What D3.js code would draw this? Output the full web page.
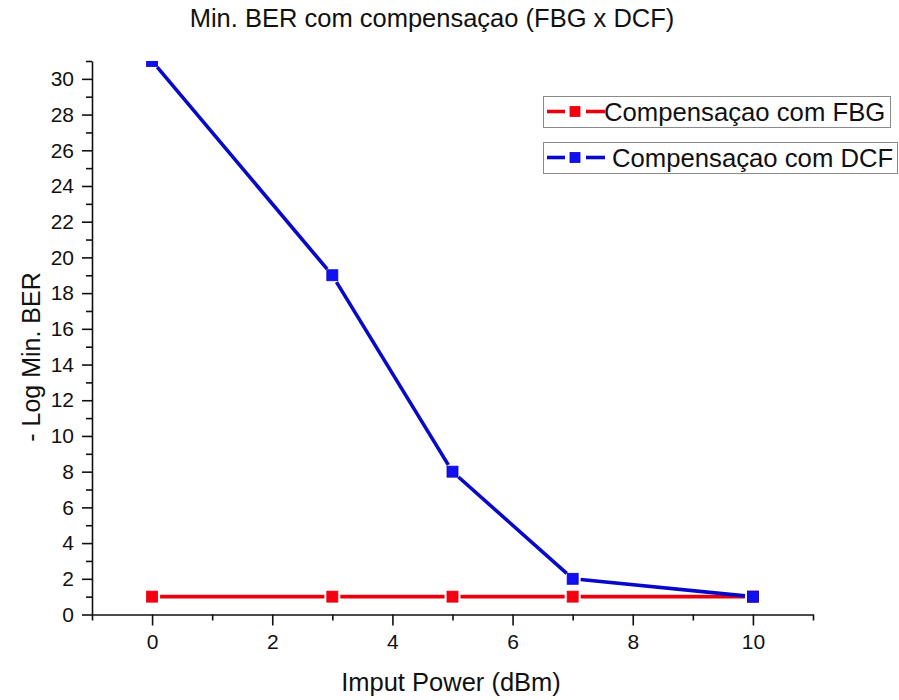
<!DOCTYPE html>
<html>
<head>
<meta charset="utf-8">
<script src="https://cdn.jsdelivr.net/npm/d3@7"></script>
<style>
  body { margin: 0; background: #fff; }
  text { font-family: Arial, "Liberation Sans", sans-serif; fill: #111; }
  .tick text { font-size: 21px; }
</style>
</head>
<body>
<svg id="chart" width="899" height="700"></svg>
<script>
// ---- data ----
const inputPower = [0, 3, 5, 7, 10];
const fbgValues = [1, 1, 1, 1, 1];
const dcfValues = [31, 19, 8, 2, 1];
const seriesNames = ["Compensaçao com FBG", "Compensaçao com DCF"];
const xMajorTicks = [0, 2, 4, 6, 8, 10];
const xMinorTicks = [-1, 1, 3, 5, 7, 9, 11];
const yMajorTicks = [0, 2, 4, 6, 8, 10, 12, 14, 16, 18, 20, 22, 24, 26, 28, 30];
const yMinorTicks = [1, 3, 5, 7, 9, 11, 13, 15, 17, 19, 21, 23, 25, 27, 29, 31];
const titleText = "Min. BER com compensaçao (FBG x DCF)";
const xLabel = "Imput Power (dBm)";
const yLabel = "- Log Min. BER";

// ---- layout ----
const svg = d3.select("#chart");
const mLeft = 92, mRight = 813, mTop = 61, mBottom = 614.5;
const x = d3.scaleLinear().domain([-1, 11]).range([mLeft, mRight]);
const y = d3.scaleLinear().domain([0, 31]).range([mBottom, mTop]);

const colors = { fbg: "#e8000e", dcf: "#0808c8" };
const markerFill = { fbg: "#f50010", dcf: "#1010f2" };

// title
svg.append("text").attr("x", 432).attr("y", 27).attr("text-anchor", "middle")
  .style("font-size", "25.5px").text(titleText);

// axes
const axisStyle = g => {
  g.attr("font-size", 21);
  g.selectAll("path").attr("stroke", "#111").attr("stroke-width", 1.6);
  g.selectAll("line").attr("stroke", "#111").attr("stroke-width", 1.6);
  g.selectAll("text").attr("font-size", 21).attr("fill", "#111");
};
const yAxisG = svg.append("g").attr("transform", `translate(${mLeft},0)`);
yAxisG.call(d3.axisLeft(y).tickValues(yMajorTicks).tickSize(10).tickPadding(8).tickSizeOuter(0));
axisStyle(yAxisG);
const yMinorG = svg.append("g").attr("transform", `translate(${mLeft},0)`);
yMinorG.call(d3.axisLeft(y).tickValues(yMinorTicks).tickSize(6).tickFormat("").tickSizeOuter(0));
axisStyle(yMinorG);
yMinorG.select("path").remove();
const xAxisG = svg.append("g").attr("transform", `translate(0,${mBottom})`);
xAxisG.call(d3.axisBottom(x).tickValues(xMajorTicks).tickSize(11).tickPadding(9).tickSizeOuter(0));
axisStyle(xAxisG);
const xMinorG = svg.append("g").attr("transform", `translate(0,${mBottom})`);
xMinorG.call(d3.axisBottom(x).tickValues(xMinorTicks).tickSize(6).tickFormat("").tickSizeOuter(0));
axisStyle(xMinorG);
xMinorG.select("path").remove();

// axis labels
svg.append("text").attr("x", 451).attr("y", 691).attr("text-anchor", "middle")
  .style("font-size", "25.5px").text(xLabel);
svg.append("text").attr("transform", "translate(40,357) rotate(-90)").attr("text-anchor", "middle")
  .style("font-size", "25px").text(yLabel);

// clip
svg.append("clipPath").attr("id", "plotclip").append("rect")
  .attr("x", mLeft).attr("y", mTop).attr("width", mRight - mLeft).attr("height", mBottom - mTop);
const plot = svg.append("g").attr("clip-path", "url(#plotclip)");

const gap = 8, msize = 11;
function drawSeries(values, key) {
  const pts = inputPower.map((p, i) => [x(p), y(values[i])]);
  const g = plot.append("g");
  for (let i = 0; i < pts.length - 1; i++) {
    const [x1, y1] = pts[i], [x2, y2] = pts[i + 1];
    const dx = x2 - x1, dy = y2 - y1, len = Math.hypot(dx, dy);
    if (len <= 2 * gap) continue;
    const ux = dx / len, uy = dy / len;
    g.append("line")
      .attr("x1", x1 + ux * gap).attr("y1", y1 + uy * gap)
      .attr("x2", x2 - ux * gap).attr("y2", y2 - uy * gap)
      .attr("stroke", colors[key]).attr("stroke-width", 3.6);
  }
  g.selectAll("rect").data(pts).enter().append("rect")
    .attr("x", d => d[0] - msize / 2).attr("y", d => d[1] - msize / 2)
    .attr("width", msize).attr("height", msize)
    .attr("fill", markerFill[key]).attr("stroke", colors[key]).attr("stroke-width", 0.8);
}
drawSeries(fbgValues, "fbg");
drawSeries(dcfValues, "dcf");

// legend
const legendItems = [
  { key: "fbg", name: seriesNames[0], y: 96, w: 347, tx: 604 },
  { key: "dcf", name: seriesNames[1], y: 142, w: 354, tx: 612 }
];
legendItems.forEach(it => {
  const g = svg.append("g");
  g.append("rect").attr("x", 543.5).attr("y", it.y + 0.5).attr("width", it.w).attr("height", 31)
    .attr("fill", "#fff").attr("stroke", "#8a8a8a").attr("stroke-width", 1);
  const cy = it.y + 15.5;
  g.append("line").attr("x1", 547).attr("x2", 565).attr("y1", cy).attr("y2", cy)
    .attr("stroke", colors[it.key]).attr("stroke-width", 3.6);
  g.append("line").attr("x1", 586).attr("x2", 605).attr("y1", cy).attr("y2", cy)
    .attr("stroke", colors[it.key]).attr("stroke-width", 3.6);
  g.append("rect").attr("x", 575 - 5).attr("y", cy - 5).attr("width", 10).attr("height", 10)
    .attr("fill", markerFill[it.key]).attr("stroke", colors[it.key]).attr("stroke-width", 0.8);
  g.append("text").attr("x", it.tx).attr("y", cy + 9).style("font-size", "25.7px").text(it.name);
});
</script>
</body>
</html>
